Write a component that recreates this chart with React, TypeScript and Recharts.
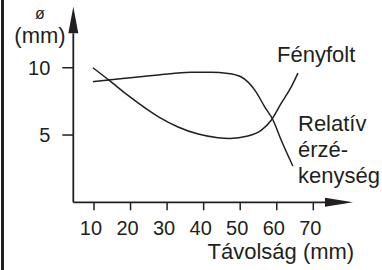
import { Line, LineChart, ReferenceDot, XAxis, YAxis } from "recharts";

// Fényfolt (light spot diameter, mm)
const fenyfoltX = [9.7, 14, 19.3, 28, 33, 38.5, 43.9, 47.2, 52.1, 55.8, 58.5, 61.2, 64, 65.8];
const fenyfoltY = [10.0, 9.1, 7.95, 6.3, 5.6, 5.07, 4.8, 4.75, 4.93, 5.37, 6.1, 7.35, 8.6, 9.6];

// Relatív érzékenység
const relativX = [9.7, 14, 27.5, 36.5, 42, 46.7, 50.2, 54, 56.7, 59, 61.2, 64.4];
const relativY = [8.96, 9.09, 9.46, 9.66, 9.66, 9.58, 9.33, 8.34, 7.1, 6.1, 4.63, 2.7];

const xTicks = [10, 20, 30, 40, 50, 60, 70];
const yTicks = [5, 10];

const X_MIN = 4.34;
const X_MAX = 73.2;
const Y_MAX = 12.56;

const INK = "#231f20";
const FONT = '"Liberation Sans", Arial, Helvetica, sans-serif';

const toRows = (xs: number[], ys: number[]) => xs.map((x, i) => ({ x, y: ys[i] }));

const ArrowRight = (p: any) => (
  <polygon
    points={`${p.cx},${p.cy - 4.5} ${p.cx + 28},${p.cy} ${p.cx},${p.cy + 4.5}`}
    fill={INK}
  />
);

const ArrowUp = (p: any) => (
  <polygon
    points={`${p.cx - 5},${p.cy} ${p.cx},${p.cy - 26.6} ${p.cx + 5},${p.cy}`}
    fill={INK}
  />
);

const txt = (top: number, left: number, extra: any = {}) => ({
  position: "absolute" as const,
  top,
  left,
  fontSize: 22,
  lineHeight: "22px",
  color: INK,
  fontFamily: FONT,
  whiteSpace: "nowrap" as const,
  ...extra,
});

export default function App() {
  const fenyfolt = toRows(fenyfoltX, fenyfoltY);
  const relativ = toRows(relativX, relativY);

  return (
    <div
      style={{
        position: "absolute",
        left: 0,
        top: 0,
        width: 382,
        height: 270,
        background: "#fff",
        fontFamily: FONT,
      }}
    >
      {/* left frame edge */}
      <div style={{ position: "absolute", left: 1, top: 0, width: 3, height: 270, background: INK }} />

      <LineChart
        width={382}
        height={270}
        margin={{ top: 33.3, right: 57, bottom: 37.7, left: 13.3 }}
      >
        <XAxis
          type="number"
          dataKey="x"
          domain={[X_MIN, X_MAX]}
          ticks={xTicks}
          allowDataOverflow
          height={30}
          tickSize={8}
          tickMargin={10.5}
          axisLine={{ stroke: INK, strokeWidth: 1.8 }}
          tickLine={{ stroke: INK, strokeWidth: 1.5 }}
          tick={{ fill: INK, fontSize: 20, fontFamily: FONT, dx: -3 }}
        />
        <YAxis
          type="number"
          dataKey="y"
          domain={[0, Y_MAX]}
          ticks={yTicks}
          allowDataOverflow
          width={60}
          tickSize={11}
          tickMargin={12}
          axisLine={{ stroke: INK, strokeWidth: 1.8 }}
          tickLine={{ stroke: INK, strokeWidth: 1.5 }}
          tick={{ fill: INK, fontSize: 20, fontFamily: FONT }}
        />
        <Line
          data={fenyfolt}
          dataKey="y"
          type="monotone"
          stroke={INK}
          strokeWidth={1.5}
          dot={false}
          isAnimationActive={false}
        />
        <Line
          data={relativ}
          dataKey="y"
          type="monotone"
          stroke={INK}
          strokeWidth={1.5}
          dot={false}
          isAnimationActive={false}
        />
        <ReferenceDot x={X_MAX} y={0} ifOverflow="visible" shape={ArrowRight} />
        <ReferenceDot x={X_MIN} y={Y_MAX} ifOverflow="visible" shape={ArrowUp} />
      </LineChart>

      {/* y unit: ø over (mm) */}
      <div style={txt(6.4, 0, { width: 80, textAlign: "center", fontSize: 16, lineHeight: "16px" })}>ø</div>
      <div style={txt(24.9, 0, { width: 80, textAlign: "center" })}>(mm)</div>
      <div style={txt(44.4, 277)}>Fényfolt</div>
      <div style={txt(110.9, 298, { lineHeight: "26px" })}>
        Relatív
        <br />
        érzé-
        <br />
        kenység
      </div>
      <div style={txt(241.4, 207.5)}>Távolság (mm)</div>
    </div>
  );
}
